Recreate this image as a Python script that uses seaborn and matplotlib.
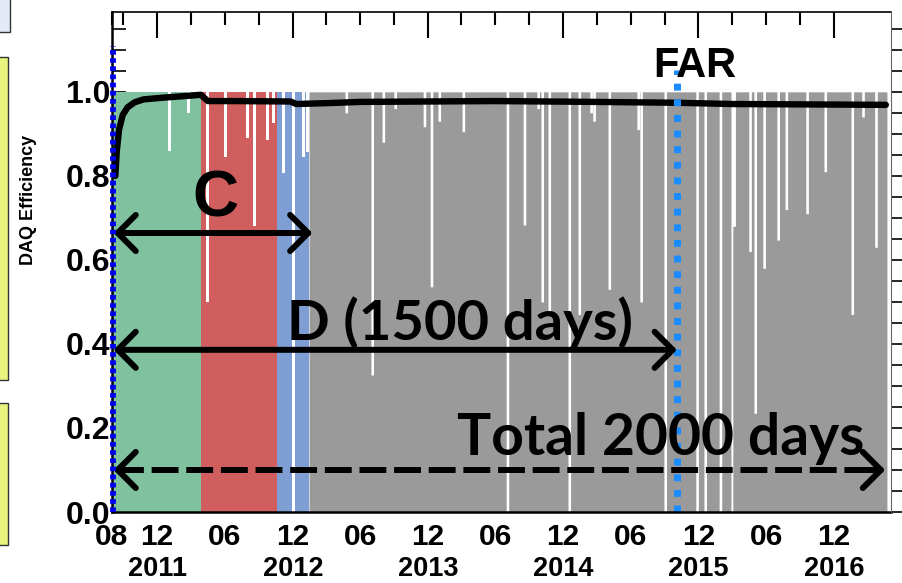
import matplotlib
matplotlib.use("Agg")
import matplotlib.pyplot as plt
import matplotlib.dates as mdates
import matplotlib.transforms as mtrans
from matplotlib.patches import Rectangle
import seaborn as sns
import pandas as pd
import numpy as np

# run periods (start of each coloured block) and end of data taking
period_starts = ["2011-08-05", "2012-03-29", "2012-10-20", "2013-01-14"]
run_end = "2017-04-23"
period_colors = ["#80c1a0", "#d05e5e", "#7f9ed3", "#9a9a9a"]

# daily DAQ efficiency: nominal level, plus the days that dropped
base_eff = 1.0
dip_dates = ["2012-01-02", "2012-02-23", "2012-04-14", "2012-06-02", "2012-07-31",
             "2012-08-19", "2012-09-23", "2012-10-09", "2012-11-05", "2012-12-02",
             "2012-12-29", "2013-01-09", "2013-04-24", "2013-07-03", "2013-08-02",
             "2013-09-03", "2013-11-21", "2013-12-10", "2013-12-31", "2014-03-06",
             "2014-07-03", "2014-08-18", "2014-09-24", "2014-10-05", "2014-10-24",
             "2014-12-17", "2015-01-13", "2015-02-14", "2015-02-22", "2015-04-04",
             "2015-06-21", "2015-06-29", "2015-09-02", "2015-11-27", "2015-12-19",
             "2016-01-29", "2016-03-01", "2016-03-06", "2016-04-18", "2016-05-02",
             "2016-05-26", "2016-07-03", "2016-07-25", "2016-09-19", "2016-11-07",
             "2017-01-19", "2017-02-17", "2017-03-24"]
dip_effs = [0.86, 0.95, 0.50, 0.845, 0.89,
            0.68, 0.886, 0.926, 0.807, 0.0,
            0.845, 0.857, 0.95, 0.326, 0.88,
            0.96, 0.917, 0.536, 0.93, 0.905,
            0.0, 0.683, 0.96, 0.50, 0.47,
            0.0, 0.47, 0.95, 0.93, 0.53,
            0.91, 0.50, 0.0, 0.0, 0.0,
            0.0, 0.0, 0.68, 0.62, 0.235,
            0.58, 0.647, 0.72, 0.71, 0.81,
            0.47, 0.94, 0.63]

# cumulative efficiency (black curve)
cum_dates = ["2011-08-10", "2011-08-14", "2011-08-20", "2011-08-30", "2011-09-12",
             "2011-10-01", "2011-10-25", "2011-12-15", "2012-02-15", "2012-03-28",
             "2012-04-08", "2012-04-16", "2012-07-01", "2012-11-25", "2012-12-10",
             "2013-03-01", "2013-06-01", "2014-06-01", "2015-03-01", "2015-10-01",
             "2016-03-01", "2016-10-01", "2017-04-20"]
cum_eff = [0.80, 0.86, 0.91, 0.945, 0.963,
           0.975, 0.982, 0.986, 0.99, 0.993,
           0.984, 0.978, 0.978, 0.977, 0.971,
           0.973, 0.976, 0.978, 0.976, 0.974,
           0.971, 0.970, 0.969]

start_date = "2011-08-05"
far_date = "2015-10-04"

# axis ticks
dec_ticks = ["2011-12-01", "2012-12-01", "2013-12-01", "2014-12-01", "2015-12-01", "2016-12-01"]
year_labels = ["2011", "2012", "2013", "2014", "2015", "2016"]
minor_ticks = ["2011-08-01", "2011-09-01", "2012-03-01", "2012-06-01", "2012-09-01",
               "2013-03-01", "2013-06-01", "2013-09-01", "2014-03-01", "2014-06-01",
               "2014-09-01", "2015-03-01", "2015-06-01", "2015-09-01", "2016-03-01",
               "2016-06-01", "2016-09-01"]
minor_labels = ["08", "", "", "06", "", "", "06", "", "", "06", "", "", "06", "", "", "06", ""]

sns.set_style("white")
plt.rcParams["font.family"] = ["Liberation Sans", "DejaVu Sans"]
plt.rcParams["font.weight"] = "bold"
plt.rcParams["text.color"] = "black"
plt.rcParams["axes.labelcolor"] = "black"
plt.rcParams["xtick.color"] = "black"
plt.rcParams["ytick.color"] = "black"

fig = plt.figure(figsize=(9.03, 5.83), dpi=100)
ax = fig.add_axes([112 / 903, 71 / 583, 779 / 903, 500 / 583])

d2n = lambda s: mdates.date2num(pd.Timestamp(s))

# daily series
days = pd.date_range(period_starts[0], run_end, freq="D")
eff = pd.Series(base_eff, index=days)
for d, v in zip(dip_dates, dip_effs):
    t = pd.Timestamp(d)
    eff[t - pd.Timedelta(days=3): t + pd.Timedelta(days=3)] = v

bounds = period_starts + [run_end]
for i, c in enumerate(period_colors):
    seg = eff[bounds[i]:bounds[i + 1]]
    ax.fill_between(seg.index, 0, seg.values, step="post", color=c, lw=0)

sns.lineplot(x=pd.to_datetime(cum_dates), y=cum_eff, color="black", lw=4.6, ax=ax)

# vertical markers
ax.plot([pd.Timestamp(start_date)] * 2, [0, 1.11], color="#0000ee", lw=4.2,
        linestyle=(0, (0.8, 0.6)), dash_capstyle="butt", clip_on=False, zorder=6)
ax.plot([pd.Timestamp(far_date)] * 2, [0, 1.052], color="#1a8cff", lw=5,
        linestyle=(0, (1.0, 1.25)), dash_capstyle="butt")

# arrows
arr = dict(arrowstyle="<->,head_length=0.65,head_width=0.65", lw=4.3, color="black",
           shrinkA=0, shrinkB=0, mutation_scale=20)
ax.annotate("", xy=(d2n(start_date), 0.664), xytext=(d2n("2013-01-23"), 0.664), arrowprops=arr)
ax.annotate("", xy=(d2n(start_date), 0.386), xytext=(d2n(far_date), 0.386), arrowprops=arr)
ax.plot([pd.Timestamp(start_date) + pd.Timedelta(days=10), pd.Timestamp("2017-04-10")], [0.10, 0.10],
        color="black", lw=4.3, linestyle=(0, (4.5, 1.3)), dash_capstyle="butt")
one = dict(arrowstyle="->,head_length=0.65,head_width=0.65", lw=4.3, color="black",
           shrinkA=0, shrinkB=0, mutation_scale=20)
ax.annotate("", xy=(d2n(start_date), 0.10), xytext=(d2n("2011-09-10"), 0.10), arrowprops=one)
ax.annotate("", xy=(d2n("2017-04-18"), 0.10), xytext=(d2n("2017-03-10"), 0.10), arrowprops=one)

ax.text(d2n("2012-05-06"), 0.743, "C", fontsize=46, fontweight="bold", ha="center", va="center")
ax.text(d2n("2014-02-25"), 0.41, "D (1500 days)", fontsize=40.5, fontweight="bold",
        family=["Lato", "DejaVu Sans"], ha="center", va="baseline")
ax.text(d2n("2015-08-20"), 0.136, "Total 2000 days", fontsize=41, fontweight="bold",
        family=["Lato", "DejaVu Sans"], ha="center", va="baseline")
ax.text(d2n("2015-11-22"), 1.035, "FAR", fontsize=30, fontweight="bold", ha="center", va="baseline")

# axes limits and ticks
ax.set_xlim(d2n("2011-08-02"), d2n("2017-05-04"))
ax.set_ylim(0, 1.19)
ax.set_xlabel("")
ax.set_xticks([d2n(s) for s in dec_ticks], labels=["12"] * len(dec_ticks))
ax.set_xticks([d2n(s) for s in minor_ticks], labels=minor_labels, minor=True)
ax.tick_params(axis="x", which="both", direction="in", top=True, labelsize=21.5, pad=8, width=1.5)
ax.tick_params(axis="x", which="major", length=19)
ax.tick_params(axis="x", which="minor", length=9.5)
for lab in ax.get_xticklabels(which="both"):
    lab.set_fontweight("bold")

yb = mtrans.blended_transform_factory(ax.transData, ax.transAxes)
for s, yl in zip(dec_ticks, year_labels):
    ax.text(d2n(s), -0.113, yl, transform=yb, fontsize=19.5, fontweight="bold",
            ha="center", va="center")

ax.set_yticks(np.arange(0, 1.01, 0.2), labels=["0.0", "0.2", "0.4", "0.6", "0.8", "1.0"])
ax.set_yticks(np.arange(0, 1.19, 0.05), minor=True)
ax.tick_params(axis="y", which="both", left=True, direction="in", labelsize=23, pad=1, width=1.2)
ax.tick_params(axis="y", which="major", length=10)
ax.tick_params(axis="y", which="minor", length=10)
for lab in ax.get_yticklabels():
    lab.set_fontweight("bold")

ax.set_ylabel("DAQ Efficiency", fontsize=13, fontweight="bold")
ax.yaxis.set_label_coords(-0.096, 0.624)

# right-hand ticks, pointing outward
ax2 = ax.twinx()
ax2.set_ylim(ax.get_ylim())
ax2.set_yticks(np.arange(0, 1.19, 0.05))
ax2.tick_params(axis="y", direction="out", length=8, width=1.2, labelright=False)
ax2.grid(False)
for side in ["top", "left", "bottom"]:
    ax2.spines[side].set_visible(False)
ax2.spines["right"].set_linewidth(0.8)
ax2.spines["right"].set_color("#666666")

ax.spines["left"].set_linewidth(1.8)
ax.spines["bottom"].set_linewidth(1.8)
ax.spines["top"].set_linewidth(1.2)
ax.spines["right"].set_visible(False)
for s in ["left", "bottom", "top"]:
    ax.spines[s].set_color("black")

# slide boxes cut at the left edge
fig.patches.append(Rectangle((-10 / 903, 1 - 32 / 583), 20 / 903, 40 / 583, transform=fig.transFigure,
                             facecolor="#e3eaf5", edgecolor="#333333", lw=1))
fig.patches.append(Rectangle((-10 / 903, 1 - 380 / 583), 18 / 903, 323 / 583, transform=fig.transFigure,
                             facecolor="#e8f47e", edgecolor="#333333", lw=1))
fig.patches.append(Rectangle((-10 / 903, 1 - 545 / 583), 18 / 903, 142 / 583, transform=fig.transFigure,
                             facecolor="#e8f47e", edgecolor="#333333", lw=1))

fig.savefig("out.png", dpi=100)
